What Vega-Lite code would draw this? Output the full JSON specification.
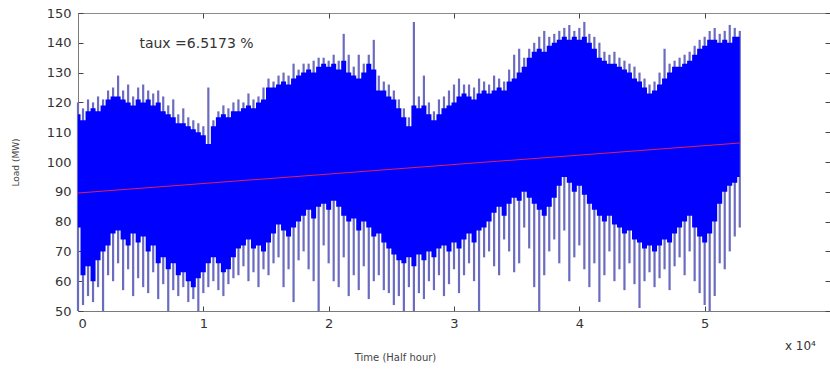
{
  "$schema": "https://vega.github.io/schema/vega-lite/v6.json",
  "width": 752,
  "height": 298,
  "autosize": "none",
  "padding": {"left": 78, "top": 13, "right": 0, "bottom": 60},
  "background": "white",
  "config": {
    "view": {"stroke": "#8c8c8c", "strokeWidth": 1},
    "axis": {
      "grid": false,
      "domainColor": "#7a7a7a",
      "tickColor": "#444444",
      "tickSize": -5,
      "labelColor": "#333333",
      "labelFont": "DejaVu Sans",
      "labelFontSize": 13,
      "titleFont": "DejaVu Sans",
      "titleFontWeight": "normal",
      "titleColor": "#444444"
    }
  },
  "datasets": {
    "load": [
      {"t":0.00,"hi":120,"top":116,"bot":78,"lo":50},
      {"t":0.04,"hi":118,"top":114,"bot":62,"lo":52},
      {"t":0.08,"hi":121,"top":117,"bot":65,"lo":55},
      {"t":0.12,"hi":120,"top":118,"bot":60,"lo":53},
      {"t":0.16,"hi":122,"top":117,"bot":67,"lo":58},
      {"t":0.20,"hi":121,"top":119,"bot":70,"lo":50},
      {"t":0.24,"hi":124,"top":121,"bot":72,"lo":62},
      {"t":0.28,"hi":125,"top":122,"bot":76,"lo":60},
      {"t":0.32,"hi":129,"top":122,"bot":77,"lo":66},
      {"t":0.36,"hi":124,"top":121,"bot":74,"lo":57},
      {"t":0.40,"hi":126,"top":120,"bot":72,"lo":64},
      {"t":0.44,"hi":122,"top":119,"bot":76,"lo":55},
      {"t":0.48,"hi":125,"top":121,"bot":73,"lo":61},
      {"t":0.52,"hi":126,"top":120,"bot":75,"lo":58},
      {"t":0.56,"hi":124,"top":121,"bot":70,"lo":56},
      {"t":0.60,"hi":123,"top":119,"bot":72,"lo":63},
      {"t":0.64,"hi":124,"top":120,"bot":66,"lo":54},
      {"t":0.68,"hi":122,"top":117,"bot":68,"lo":59},
      {"t":0.72,"hi":119,"top":116,"bot":64,"lo":50},
      {"t":0.76,"hi":121,"top":115,"bot":66,"lo":57},
      {"t":0.80,"hi":116,"top":113,"bot":62,"lo":55},
      {"t":0.84,"hi":118,"top":113,"bot":63,"lo":58},
      {"t":0.88,"hi":115,"top":112,"bot":60,"lo":53},
      {"t":0.92,"hi":114,"top":111,"bot":58,"lo":54},
      {"t":0.96,"hi":113,"top":110,"bot":61,"lo":50},
      {"t":1.00,"hi":112,"top":109,"bot":63,"lo":56},
      {"t":1.04,"hi":125,"top":106,"bot":66,"lo":58},
      {"t":1.08,"hi":114,"top":112,"bot":68,"lo":60},
      {"t":1.12,"hi":117,"top":115,"bot":66,"lo":57},
      {"t":1.16,"hi":119,"top":116,"bot":63,"lo":55},
      {"t":1.20,"hi":118,"top":115,"bot":64,"lo":59},
      {"t":1.24,"hi":120,"top":117,"bot":68,"lo":61},
      {"t":1.28,"hi":121,"top":117,"bot":71,"lo":62},
      {"t":1.32,"hi":120,"top":118,"bot":72,"lo":65},
      {"t":1.36,"hi":123,"top":119,"bot":74,"lo":60},
      {"t":1.40,"hi":121,"top":118,"bot":71,"lo":63},
      {"t":1.44,"hi":122,"top":120,"bot":72,"lo":58},
      {"t":1.48,"hi":125,"top":121,"bot":70,"lo":64},
      {"t":1.52,"hi":128,"top":125,"bot":73,"lo":62},
      {"t":1.56,"hi":127,"top":125,"bot":76,"lo":66},
      {"t":1.60,"hi":129,"top":126,"bot":79,"lo":68},
      {"t":1.64,"hi":130,"top":127,"bot":77,"lo":58},
      {"t":1.68,"hi":129,"top":126,"bot":75,"lo":64},
      {"t":1.72,"hi":133,"top":128,"bot":78,"lo":53},
      {"t":1.76,"hi":131,"top":129,"bot":80,"lo":67},
      {"t":1.80,"hi":133,"top":130,"bot":82,"lo":70},
      {"t":1.84,"hi":133,"top":131,"bot":84,"lo":64},
      {"t":1.88,"hi":134,"top":130,"bot":81,"lo":60},
      {"t":1.92,"hi":135,"top":132,"bot":85,"lo":50},
      {"t":1.96,"hi":135,"top":133,"bot":86,"lo":72},
      {"t":2.00,"hi":134,"top":132,"bot":84,"lo":66},
      {"t":2.04,"hi":136,"top":133,"bot":87,"lo":60},
      {"t":2.08,"hi":134,"top":131,"bot":85,"lo":58},
      {"t":2.12,"hi":143,"top":134,"bot":82,"lo":68},
      {"t":2.16,"hi":136,"top":130,"bot":80,"lo":55},
      {"t":2.20,"hi":132,"top":129,"bot":81,"lo":62},
      {"t":2.24,"hi":136,"top":128,"bot":77,"lo":57},
      {"t":2.28,"hi":133,"top":130,"bot":80,"lo":65},
      {"t":2.32,"hi":136,"top":133,"bot":78,"lo":54},
      {"t":2.36,"hi":141,"top":131,"bot":75,"lo":60},
      {"t":2.40,"hi":129,"top":124,"bot":76,"lo":62},
      {"t":2.44,"hi":127,"top":124,"bot":73,"lo":57},
      {"t":2.48,"hi":126,"top":122,"bot":71,"lo":56},
      {"t":2.52,"hi":124,"top":121,"bot":69,"lo":52},
      {"t":2.56,"hi":121,"top":118,"bot":67,"lo":55},
      {"t":2.60,"hi":118,"top":115,"bot":66,"lo":50},
      {"t":2.64,"hi":115,"top":112,"bot":68,"lo":58},
      {"t":2.68,"hi":147,"top":119,"bot":65,"lo":50},
      {"t":2.72,"hi":122,"top":118,"bot":69,"lo":56},
      {"t":2.76,"hi":129,"top":119,"bot":67,"lo":54},
      {"t":2.80,"hi":120,"top":116,"bot":70,"lo":60},
      {"t":2.84,"hi":117,"top":114,"bot":68,"lo":57},
      {"t":2.88,"hi":121,"top":116,"bot":71,"lo":62},
      {"t":2.92,"hi":122,"top":118,"bot":72,"lo":55},
      {"t":2.96,"hi":124,"top":119,"bot":70,"lo":59},
      {"t":3.00,"hi":126,"top":120,"bot":73,"lo":64},
      {"t":3.04,"hi":128,"top":122,"bot":71,"lo":56},
      {"t":3.08,"hi":126,"top":123,"bot":74,"lo":62},
      {"t":3.12,"hi":126,"top":122,"bot":76,"lo":66},
      {"t":3.16,"hi":125,"top":121,"bot":73,"lo":60},
      {"t":3.20,"hi":128,"top":123,"bot":77,"lo":50},
      {"t":3.24,"hi":127,"top":124,"bot":78,"lo":68},
      {"t":3.28,"hi":126,"top":123,"bot":80,"lo":70},
      {"t":3.32,"hi":129,"top":124,"bot":83,"lo":65},
      {"t":3.36,"hi":128,"top":125,"bot":85,"lo":62},
      {"t":3.40,"hi":127,"top":124,"bot":82,"lo":74},
      {"t":3.44,"hi":131,"top":127,"bot":86,"lo":70},
      {"t":3.48,"hi":136,"top":128,"bot":88,"lo":63},
      {"t":3.52,"hi":138,"top":130,"bot":87,"lo":66},
      {"t":3.56,"hi":135,"top":132,"bot":90,"lo":78},
      {"t":3.60,"hi":138,"top":135,"bot":88,"lo":71},
      {"t":3.64,"hi":140,"top":137,"bot":86,"lo":58},
      {"t":3.68,"hi":142,"top":138,"bot":84,"lo":50},
      {"t":3.72,"hi":144,"top":137,"bot":82,"lo":62},
      {"t":3.76,"hi":142,"top":139,"bot":85,"lo":70},
      {"t":3.80,"hi":143,"top":140,"bot":88,"lo":74},
      {"t":3.84,"hi":144,"top":141,"bot":92,"lo":66},
      {"t":3.88,"hi":145,"top":142,"bot":95,"lo":77},
      {"t":3.92,"hi":146,"top":141,"bot":93,"lo":60},
      {"t":3.96,"hi":144,"top":142,"bot":90,"lo":68},
      {"t":4.00,"hi":145,"top":141,"bot":92,"lo":72},
      {"t":4.04,"hi":147,"top":142,"bot":89,"lo":64},
      {"t":4.08,"hi":143,"top":140,"bot":86,"lo":58},
      {"t":4.12,"hi":142,"top":138,"bot":84,"lo":66},
      {"t":4.16,"hi":140,"top":135,"bot":82,"lo":53},
      {"t":4.20,"hi":137,"top":134,"bot":80,"lo":62},
      {"t":4.24,"hi":136,"top":133,"bot":82,"lo":70},
      {"t":4.28,"hi":137,"top":133,"bot":79,"lo":60},
      {"t":4.32,"hi":135,"top":132,"bot":78,"lo":64},
      {"t":4.36,"hi":134,"top":131,"bot":76,"lo":57},
      {"t":4.40,"hi":133,"top":130,"bot":77,"lo":66},
      {"t":4.44,"hi":132,"top":128,"bot":74,"lo":59},
      {"t":4.48,"hi":130,"top":127,"bot":73,"lo":51},
      {"t":4.52,"hi":128,"top":125,"bot":71,"lo":60},
      {"t":4.56,"hi":126,"top":123,"bot":72,"lo":63},
      {"t":4.60,"hi":127,"top":124,"bot":70,"lo":58},
      {"t":4.64,"hi":130,"top":126,"bot":72,"lo":61},
      {"t":4.68,"hi":138,"top":128,"bot":74,"lo":64},
      {"t":4.72,"hi":133,"top":130,"bot":73,"lo":57},
      {"t":4.76,"hi":134,"top":132,"bot":76,"lo":65},
      {"t":4.80,"hi":135,"top":132,"bot":78,"lo":68},
      {"t":4.84,"hi":136,"top":133,"bot":80,"lo":62},
      {"t":4.88,"hi":137,"top":134,"bot":82,"lo":70},
      {"t":4.92,"hi":139,"top":136,"bot":78,"lo":60},
      {"t":4.96,"hi":141,"top":138,"bot":75,"lo":56},
      {"t":5.00,"hi":142,"top":139,"bot":73,"lo":52},
      {"t":5.04,"hi":144,"top":141,"bot":76,"lo":50},
      {"t":5.08,"hi":145,"top":141,"bot":80,"lo":55},
      {"t":5.12,"hi":143,"top":140,"bot":86,"lo":66},
      {"t":5.16,"hi":144,"top":141,"bot":90,"lo":64},
      {"t":5.20,"hi":146,"top":140,"bot":92,"lo":70},
      {"t":5.24,"hi":145,"top":142,"bot":93,"lo":75},
      {"t":5.28,"hi":144,"top":142,"bot":95,"lo":78}
    ],
    "trend": [
      {"t": 0, "v": 89.6},
      {"t": 5.28, "v": 106.4}
    ],
    "notes": [
      {"t": 0.49, "v": 138.4, "label": "taux =6.5173 %"}
    ],
    "scale10": [
      {"t": 5.64, "v": 38.4, "label": "x 10⁴"}
    ]
  },
  "layer": [
    {
      "data": {"name": "load"},
      "mark": {"type": "rule", "color": "#6b6bc0", "strokeWidth": 2.2},
      "encoding": {
        "x": {
          "field": "t", "type": "quantitative",
          "scale": {"domain": [0, 6], "nice": false, "zero": false},
          "axis": {
            "values": [0, 1, 2, 3, 4, 5],
            "title": "Time (Half hour)",
            "titleFontSize": 10,
            "titleX": 317,
            "titleY": 46,
            "titleAnchor": "middle",
            "titleBaseline": "middle",
            "labelPadding": 11
          }
        },
        "y": {
          "field": "lo", "type": "quantitative",
          "scale": {"domain": [50, 150], "nice": false, "zero": false},
          "axis": {
            "values": [50, 60, 70, 80, 90, 100, 110, 120, 130, 140, 150],
            "title": "Load (MW)",
            "titleFontSize": 9,
            "titleX": -63,
            "titleY": 149,
            "titleAngle": -90,
            "titleAnchor": "middle",
            "titleBaseline": "middle",
            "labelPadding": 12
          }
        },
        "y2": {"field": "hi"}
      }
    },
    {
      "data": {"name": "load"},
      "mark": {"type": "area", "color": "#0000ff", "interpolate": "step", "opacity": 1},
      "encoding": {
        "x": {"field": "t", "type": "quantitative", "axis": null},
        "y": {"field": "top", "type": "quantitative", "axis": null},
        "y2": {"field": "bot"}
      }
    },
    {
      "data": {"name": "trend"},
      "mark": {"type": "line", "color": "#e0205a", "strokeWidth": 1.1},
      "encoding": {
        "x": {
          "field": "t", "type": "quantitative",
          "axis": {"orient": "top", "labels": false, "title": null, "values": [0, 1, 2, 3, 4, 5, 6], "domain": false}
        },
        "y": {
          "field": "v", "type": "quantitative",
          "axis": {"orient": "right", "labels": false, "title": null, "values": [50, 60, 70, 80, 90, 100, 110, 120, 130, 140, 150], "domain": false}
        }
      }
    },
    {
      "data": {"name": "notes"},
      "mark": {"type": "text", "align": "left", "baseline": "alphabetic", "font": "DejaVu Sans", "fontSize": 14, "color": "#333333"},
      "encoding": {
        "x": {"field": "t", "type": "quantitative", "axis": null},
        "y": {"field": "v", "type": "quantitative", "axis": null},
        "text": {"field": "label"}
      }
    },
    {
      "data": {"name": "scale10"},
      "mark": {"type": "text", "align": "left", "baseline": "middle", "font": "DejaVu Sans", "fontSize": 12, "color": "#333333"},
      "encoding": {
        "x": {"field": "t", "type": "quantitative", "axis": null},
        "y": {"field": "v", "type": "quantitative", "axis": null},
        "text": {"field": "label"}
      }
    }
  ],
  "resolve": {"axis": {"x": "independent", "y": "independent"}}
}
